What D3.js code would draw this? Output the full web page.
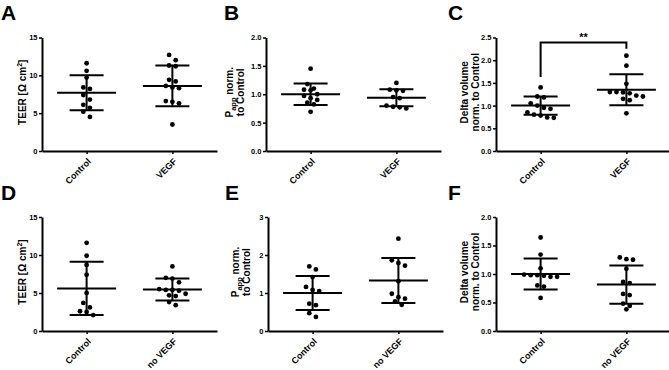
<!DOCTYPE html>
<html>
<head>
<meta charset="utf-8">
<script src="https://cdn.jsdelivr.net/npm/d3@7"></script>
<style>
	body { margin: 0; background: #fff; }
	text { font-family: "Liberation Sans", Arial, sans-serif; font-weight: bold; fill: #000; }
</style>
</head>
<body>
<svg id="fig" width="669" height="370"></svg>
<script>
// categories
var groupsTop = ['Control', 'VEGF'];
var groupsBottom = ['Control', 'no VEGF'];

// A - TEER with VEGF
var teerCtrlA = [11.6, 10.6, 9.7, 8.4, 8.2, 7.4, 6.8, 6.1, 5.7, 5.2, 4.5];
var teerVegfA = [12.7, 12.0, 11.3, 11.2, 9.4, 9.2, 8.6, 8.4, 8.3, 6.6, 6.5, 6.3, 3.5];
var teerMeanA = [7.7, 8.6];
var teerSdA = [2.3, 2.7];

// B - Papp with VEGF
var pappCtrlB = [1.45, 1.18, 1.1, 1.08, 1.07, 1.0, 0.97, 0.93, 0.9, 0.85, 0.82, 0.69];
var pappVegfB = [1.2, 1.08, 1.07, 1.06, 0.95, 0.93, 0.8, 0.78, 0.77, 0.75];
var pappMeanB = [1.0, 0.94];
var pappSdB = [0.19, 0.15];

// C - delta volume with VEGF
var volCtrlC = [1.4, 1.2, 1.18, 1.05, 1.0, 0.95, 0.93, 0.85, 0.8, 0.78, 0.74, 0.73];
var volVegfC = [2.1, 1.88, 1.48, 1.3, 1.3, 1.29, 1.27, 1.22, 1.2, 1.15, 1.12, 0.83];
var volMeanC = [1.0, 1.35];
var volSdC = [0.2, 0.34];

// D - TEER without VEGF
var teerCtrlD = [11.6, 9.9, 8.7, 7.4, 5.0, 3.7, 3.1, 2.6, 2.5, 2.1];
var teerNoVegfD = [8.5, 7.0, 6.9, 6.4, 5.5, 5.4, 5.4, 5.3, 4.9, 4.7, 4.6, 3.8, 3.4];
var teerMeanD = [5.6, 5.45];
var teerSdD = [3.5, 1.45];

// E - Papp without VEGF
var pappCtrlE = [1.7, 1.62, 1.42, 1.16, 1.08, 1.05, 0.72, 0.68, 0.47, 0.37];
var pappNoVegfE = [2.43, 1.86, 1.79, 1.72, 1.31, 0.98, 0.89, 0.85, 0.78, 0.69];
var pappMeanE = [1.0, 1.33];
var pappSdE = [0.45, 0.59];

// F - delta volume without VEGF
var volCtrlF = [1.64, 1.34, 1.1, 0.99, 0.98, 0.98, 0.97, 0.95, 0.95, 0.8, 0.78, 0.58];
var volNoVegfF = [1.29, 1.26, 1.25, 1.09, 0.86, 0.84, 0.65, 0.63, 0.48, 0.44, 0.38];
var volMeanF = [1.0, 0.815];
var volSdF = [0.27, 0.335];

// tick values
var ticksTeer = [0, 5, 10, 15];
var ticksPapp = [0, 0.5, 1, 1.5, 2];
var ticksPappE = [0, 1, 2, 3];
var ticksVolC = [0, 0.5, 1, 1.5, 2, 2.5];
var ticksVolF = [0, 0.5, 1, 1.5, 2];

// significance bracket (panel C): bar height, leg ends, label
var sigC = { top: 2.39, legs: [1.63, 2.25], label: '**' };

var svg = d3.select('#fig');
var fmt1 = d3.format('.1f');
var fmt0 = d3.format('d');

/**
	groups close y values into rows and centres each row on the category
**/
function swarm(values, cx, y, step, gap){
	var sorted = values.slice().sort(d3.descending);
	var rows = [], row = null;
	sorted.forEach(function(v){
		if (!row || y(v) - y(row[0]) > gap){
			row = [];
			rows.push(row);
		}
		row.push(v);
	});
	var out = [];
	rows.forEach(function(r){
		r.forEach(function(v, i){
			out.push([cx + (i - (r.length - 1) / 2) * step, y(v)]);
		});
	});
	return out;
}

function drawPanel(cfg){
	var g = svg.append('g').attr('id', 'panel' + cfg.letter);
	var y = d3.scaleLinear().domain([0, d3.max(cfg.ticks)]).range([cfg.bottom, cfg.top]);
	var x = d3.scalePoint().domain(cfg.groups).range([cfg.axisX, cfg.axisX + 175]).padding(0.52);

	// panel letter
	g.append('text').attr('x', cfg.letterX).attr('y', cfg.top - 17.5)
		.style('font-size', '21px').text(cfg.letter);

	// y axis
	var ya = g.append('g').attr('transform', 'translate(' + cfg.axisX + ',0)')
		.call(d3.axisLeft(y).tickValues(cfg.ticks).tickFormat(cfg.fmt).tickSize(3).tickSizeOuter(0).tickPadding(1.5));
	ya.select('.domain').attr('stroke-width', 2);
	ya.selectAll('.tick line').attr('stroke-width', 1.5);
	ya.selectAll('.tick text').style('font-size', '7.5px').style('font-family', '"Liberation Sans", Arial, sans-serif').style('font-weight', 'bold');

	// x axis
	var xa = g.append('g').attr('transform', 'translate(0,' + cfg.bottom + ')')
		.call(d3.axisBottom(x).tickSize(3).tickSizeOuter(0).tickFormat(''));
	xa.select('.domain').attr('stroke-width', 2);
	xa.selectAll('.tick line').attr('stroke-width', 1.5);
	g.selectAll('text.xlab')
		.data(cfg.groups)
		.enter().append('text')
		.attr('class', 'xlab')
		.attr('text-anchor', 'end')
		.attr('transform', function(d){ return 'translate(' + (x(d) + 5) + ',' + (cfg.bottom + 11) + ') rotate(-45)'; })
		.style('font-size', '9px')
		.text(function(d){ return d; });

	// y label
	var lab = g.append('text').attr('text-anchor', 'middle')
		.attr('transform', 'translate(' + cfg.labelX + ',' + ((cfg.top + cfg.bottom) / 2 - 2) + ') rotate(-90)')
		.style('font-size', '10px');
	cfg.label(lab);

	// points, mean and SD
	cfg.series.forEach(function(vals, i){
		var cx = x(cfg.groups[i]);
		g.append('g').selectAll('circle')
			.data(swarm(vals, cx, y, 6.6, 5.5))
			.enter().append('circle')
			.attr('cx', function(d){ return d[0]; })
			.attr('cy', function(d){ return d[1]; })
			.attr('r', 2.4);
		var m = cfg.mean[i], s = cfg.sd[i];
		var lines = [
			[cx - 29.5, y(m), cx + 29.5, y(m)],
			[cx, y(m + s), cx, y(m - s)],
			[cx - 17, y(m + s), cx + 17, y(m + s)],
			[cx - 17, y(m - s), cx + 17, y(m - s)]
		];
		g.append('g').selectAll('line')
			.data(lines)
			.enter().append('line')
			.attr('x1', function(d){ return d[0]; })
			.attr('y1', function(d){ return d[1]; })
			.attr('x2', function(d){ return d[2]; })
			.attr('y2', function(d){ return d[3]; })
			.attr('stroke', '#000')
			.attr('stroke-width', 2);
	});

	if (cfg.sig){
		var x1 = x(cfg.groups[0]), x2 = x(cfg.groups[1]);
		g.append('path')
			.attr('d', 'M' + x1 + ',' + y(cfg.sig.legs[0]) + 'V' + y(cfg.sig.top) + 'H' + x2 + 'V' + y(cfg.sig.legs[1]))
			.attr('fill', 'none').attr('stroke', '#000').attr('stroke-width', 2);
		g.append('text').attr('x', (x1 + x2) / 2).attr('y', y(cfg.sig.top) - 1.5)
			.attr('text-anchor', 'middle').style('font-size', '11px').text(cfg.sig.label);
	}
}

function teerLabel(t){
	t.append('tspan').text('TEER [\u03A9 cm');
	t.append('tspan').attr('dy', -4).style('font-size', '7px').text('2');
	t.append('tspan').attr('dy', 4).text(']');
}
function pappLabel(t){
	t.append('tspan').attr('x', 0).attr('dy', 0).text('P');
	t.append('tspan').attr('dy', 2.5).style('font-size', '7.5px').text('app');
	t.append('tspan').attr('dy', -2.5).text(' norm.');
	t.append('tspan').attr('x', 0).attr('dy', 11).text('to Control');
}
function volLabel(t){
	t.append('tspan').attr('x', 0).attr('dy', 0).text('Delta volume');
	t.append('tspan').attr('x', 0).attr('dy', 11).text('norm. to Control');
}

drawPanel({ letter: 'A', letterX: 1, axisX: 42, top: 37.5, bottom: 151, groups: groupsTop,
	ticks: ticksTeer, fmt: fmt0, series: [teerCtrlA, teerVegfA], mean: teerMeanA, sd: teerSdA,
	labelX: 26, label: teerLabel });
drawPanel({ letter: 'B', letterX: 224, axisX: 266, top: 37.5, bottom: 151, groups: groupsTop,
	ticks: ticksPapp, fmt: fmt1, series: [pappCtrlB, pappVegfB], mean: pappMeanB, sd: pappSdB,
	labelX: 233, label: pappLabel });
drawPanel({ letter: 'C', letterX: 448, axisX: 496, top: 37.5, bottom: 151, groups: groupsTop,
	ticks: ticksVolC, fmt: fmt1, series: [volCtrlC, volVegfC], mean: volMeanC, sd: volSdC,
	labelX: 468, label: volLabel, sig: sigC });
drawPanel({ letter: 'D', letterX: 1, axisX: 42, top: 217, bottom: 331, groups: groupsBottom,
	ticks: ticksTeer, fmt: fmt0, series: [teerCtrlD, teerNoVegfD], mean: teerMeanD, sd: teerSdD,
	labelX: 26, label: teerLabel });
drawPanel({ letter: 'E', letterX: 225, axisX: 268, top: 217, bottom: 331, groups: groupsBottom,
	ticks: ticksPappE, fmt: fmt0, series: [pappCtrlE, pappNoVegfE], mean: pappMeanE, sd: pappSdE,
	labelX: 239, label: pappLabel });
drawPanel({ letter: 'F', letterX: 448, axisX: 496, top: 217, bottom: 331, groups: groupsBottom,
	ticks: ticksVolF, fmt: fmt1, series: [volCtrlF, volNoVegfF], mean: volMeanF, sd: volSdF,
	labelX: 468, label: volLabel });
</script>
</body>
</html>
